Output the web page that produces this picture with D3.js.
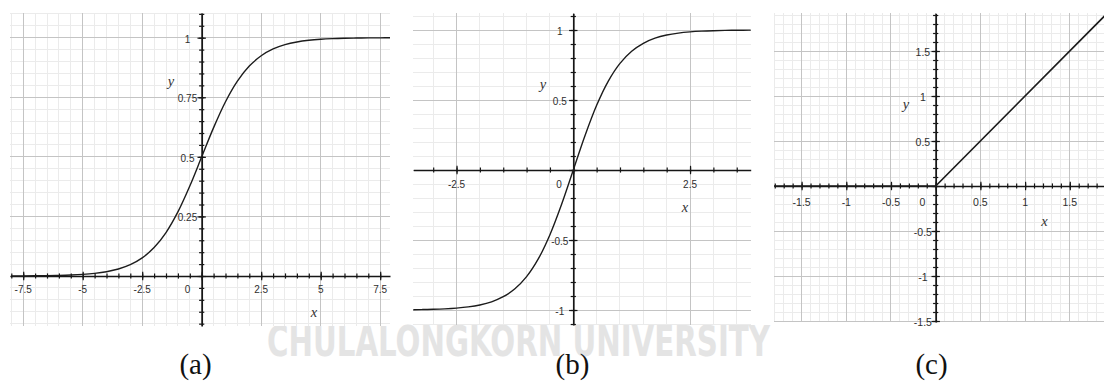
<!DOCTYPE html>
<html>
<head>
<meta charset="utf-8">
<script src="https://cdn.jsdelivr.net/npm/d3@7"></script>
<style>
  html, body { margin: 0; padding: 0; background: #fff; }
  svg { display: block; }
</style>
</head>
<body>
<svg id="fig" width="1104" height="381"></svg>
<script>
// ---- sampled curves ----
// (a) logistic sigmoid
const sigmoidX = [-8, -7.5, -7, -6.5, -6, -5.5, -5, -4.5, -4, -3.5, -3, -2.5, -2, -1.5, -1, -0.5,
                  0, 0.5, 1, 1.5, 2, 2.5, 3, 3.5, 4, 4.5, 5, 5.5, 6, 6.5, 7, 7.5, 8];
const sigmoidY = [0.0003, 0.0006, 0.0009, 0.0015, 0.0025, 0.0041, 0.0067, 0.0110, 0.0180, 0.0293,
                  0.0474, 0.0759, 0.1192, 0.1824, 0.2689, 0.3775, 0.5, 0.6225, 0.7311, 0.8176,
                  0.8808, 0.9241, 0.9526, 0.9707, 0.9820, 0.9890, 0.9933, 0.9959, 0.9975, 0.9985,
                  0.9991, 0.9994, 0.9997];
// (b) hyperbolic tangent
const tanhX = [-3.75, -3.5, -3.25, -3, -2.75, -2.5, -2.25, -2, -1.75, -1.5, -1.25, -1, -0.75, -0.5, -0.25,
               0, 0.25, 0.5, 0.75, 1, 1.25, 1.5, 1.75, 2, 2.25, 2.5, 2.75, 3, 3.25, 3.5, 3.75, 4];
const tanhY = [-0.9989, -0.9982, -0.9970, -0.9951, -0.9919, -0.9866, -0.9780, -0.9640, -0.9414, -0.9051,
               -0.8483, -0.7616, -0.6351, -0.4621, -0.2449, 0, 0.2449, 0.4621, 0.6351, 0.7616, 0.8483,
               0.9051, 0.9414, 0.9640, 0.9780, 0.9866, 0.9919, 0.9951, 0.9970, 0.9982, 0.9989, 0.9993];
// (c) rectified linear unit
const reluX = [-2, 0, 2];
const reluY = [0, 0, 2];

// ---- tick labels ----
const ticksAX = [-7.5, -5, -2.5, 2.5, 5, 7.5];
const ticksAY = [0.25, 0.5, 0.75, 1];
const ticksBX = [-2.5, 2.5];
const ticksBY = [-1, -0.5, 0.5, 1];
const ticksCX = [-1.5, -1, -0.5, 0.5, 1, 1.5];
const ticksCY = [-1.5, -1, -0.5, 0.5, 1, 1.5];
const captions = ["(a)", "(b)", "(c)"];
const watermark = "CHULALONGKORN UNIVERSITY";

// ---- panel layout ----
const panels = [
  { xs: sigmoidX, ys: sigmoidY, tx: ticksAX, ty: ticksAY,
    left: 10, right: 390, top: 13, bottom: 326,
    xDom: [-8.055, 7.912], yDom: [-0.2098, 1.1036],
    majX: 2.5, minX: 0.5, majY: 0.25, minY: 0.05,
    fs: 10, xLabDy: 17, yLabDx: -14.2, zeroDx: -14.2,
    xName: [314, 316.7], yName: [171, 85.5], capX: 195.5, curveW: 1.4 },
  { xs: tanhX, ys: tanhY, tx: ticksBX, ty: ticksBY,
    left: 413.3, right: 750.7, top: 13.3, bottom: 325,
    xDom: [-3.426, 3.799], yDom: [-1.1071, 1.1193],
    majX: 2.5, minX: 0.5, majY: 0.5, minY: 0.1,
    fs: 10, xLabDy: 18.3, yLabDx: -13.5, zeroDx: -14.3,
    xName: [685, 211.7], yName: [543, 89], capX: 572.5, curveW: 1.4 },
  { xs: reluX, ys: reluY, tx: ticksCX, ty: ticksCY,
    left: 774, right: 1104, top: 13.3, bottom: 322,
    xDom: [-1.8087, 1.8826], yDom: [-1.5111, 1.9189],
    majX: 0.5, minX: 0.1, majY: 0.5, minY: 0.1,
    fs: 10.5, xLabDy: 19.7, yLabDx: -12.8, zeroDx: -13.2,
    xName: [1044.5, 226], yName: [906, 109], capX: 931.5, curveW: 1.7 }
];

const svg = d3.select("#fig");

// faint university watermark behind the panels
svg.append("text")
  .attr("x", 267).attr("y", 356)
  .attr("textLength", 503).attr("lengthAdjust", "spacingAndGlyphs")
  .attr("font-family", "'Liberation Sans Narrow', 'DejaVu Sans Condensed', 'Liberation Sans', sans-serif")
  .attr("font-weight", "bold").attr("font-size", 42.5)
  .attr("fill", "#e4e4e4")
  .text(watermark);

function stepValues(dom, step) {
  const out = [];
  const i0 = Math.ceil(dom[0] / step - 1e-9), i1 = Math.floor(dom[1] / step + 1e-9);
  for (let i = i0; i <= i1; i++) out.push(+(i * step).toFixed(6));
  return out;
}
function fmt(v) { return String(+v.toFixed(3)).replace("-", "-"); }

panels.forEach((p, k) => {
  const x = d3.scaleLinear().domain(p.xDom).range([p.left, p.right]);
  const y = d3.scaleLinear().domain(p.yDom).range([p.bottom, p.top]);
  const g = svg.append("g");

  const clipId = "clip" + k;
  svg.append("defs").append("clipPath").attr("id", clipId)
    .append("rect").attr("x", p.left).attr("y", p.top)
    .attr("width", p.right - p.left).attr("height", p.bottom - p.top);

  // white panel background
  g.append("rect").attr("x", p.left).attr("y", p.top)
    .attr("width", p.right - p.left).attr("height", p.bottom - p.top)
    .attr("fill", "#fff");

  const minXs = stepValues(p.xDom, p.minX), minYs = stepValues(p.yDom, p.minY);
  const majXs = stepValues(p.xDom, p.majX), majYs = stepValues(p.yDom, p.majY);

  // minor grid
  const grid = g.append("g").attr("shape-rendering", "crispEdges");
  grid.selectAll(".mvx").data(minXs).join("line")
    .attr("x1", d => x(d)).attr("x2", d => x(d)).attr("y1", p.top).attr("y2", p.bottom)
    .attr("stroke", "#ebebeb").attr("stroke-width", 1);
  grid.selectAll(".mhy").data(minYs).join("line")
    .attr("class", "mhy")
    .attr("y1", d => y(d)).attr("y2", d => y(d)).attr("x1", p.left).attr("x2", p.right)
    .attr("stroke", "#ebebeb").attr("stroke-width", 1);
  // major grid
  grid.selectAll(".Mvx").data(majXs).join("line")
    .attr("class", "Mvx")
    .attr("x1", d => x(d)).attr("x2", d => x(d)).attr("y1", p.top).attr("y2", p.bottom)
    .attr("stroke", "#c4c4c4").attr("stroke-width", 1);
  grid.selectAll(".Mhy").data(majYs).join("line")
    .attr("class", "Mhy")
    .attr("y1", d => y(d)).attr("y2", d => y(d)).attr("x1", p.left).attr("x2", p.right)
    .attr("stroke", "#c4c4c4").attr("stroke-width", 1);

  // axes through the origin, ticks crossing the axis line
  const axCol = "#161616";
  const addAxis = (gen, tr, vals, size, showDomain) => {
    const a = g.append("g").attr("transform", tr)
      .call(gen.tickValues(vals).tickSize(size).tickSizeOuter(0).tickFormat(""));
    a.select(".domain").attr("stroke", axCol).attr("stroke-width", 1.7)
      .style("display", showDomain ? null : "none");
    a.selectAll(".tick line").attr("stroke", axCol).attr("stroke-width", 1.2);
  };
  const xAxT = `translate(0,${y(0)})`, yAxT = `translate(${x(0)},0)`;
  addAxis(d3.axisBottom(x), xAxT, minXs, 2.6, true);
  addAxis(d3.axisTop(x), xAxT, minXs, 2.6, false);
  addAxis(d3.axisBottom(x), xAxT, majXs, 4.2, false);
  addAxis(d3.axisTop(x), xAxT, majXs, 4.2, false);
  addAxis(d3.axisLeft(y), yAxT, minYs, 2.6, true);
  addAxis(d3.axisRight(y), yAxT, minYs, 2.6, false);
  addAxis(d3.axisLeft(y), yAxT, majYs, 4.2, false);
  addAxis(d3.axisRight(y), yAxT, majYs, 4.2, false);

  // tick labels
  const lab = g.append("g")
    .attr("font-family", "'Liberation Sans', Arial, Helvetica, sans-serif")
    .attr("font-size", p.fs).attr("fill", "#2e2e2e").attr("text-anchor", "middle");
  lab.selectAll(".tx").data(p.tx).join("text")
    .attr("class", "tx")
    .attr("x", d => x(d)).attr("y", y(0) + p.xLabDy).text(fmt);
  lab.append("text").attr("x", x(0) + p.zeroDx).attr("y", y(0) + p.xLabDy).text("0");
  lab.selectAll(".ty").data(p.ty).join("text")
    .attr("class", "ty")
    .attr("x", x(0) + p.yLabDx).attr("y", d => y(d) + 5).text(fmt);

  // axis names
  const nm = g.append("g")
    .attr("font-family", "'Liberation Serif', 'Times New Roman', serif")
    .attr("font-style", "italic").attr("font-size", 14.5).attr("fill", "#333")
    .attr("text-anchor", "middle");
  nm.append("text").attr("x", p.xName[0]).attr("y", p.xName[1]).text("x");
  nm.append("text").attr("x", p.yName[0]).attr("y", p.yName[1]).text("y");

  // curve
  const pts = p.xs.map((v, i) => [v, p.ys[i]]);
  const line = d3.line().x(d => x(d[0])).y(d => y(d[1]))
    .curve(p.xs.length > 3 ? d3.curveCatmullRom.alpha(0.5) : d3.curveLinear);
  g.append("path").datum(pts)
    .attr("clip-path", `url(#${clipId})`)
    .attr("d", line).attr("fill", "none")
    .attr("stroke", "#1c1c1c").attr("stroke-width", p.curveW)
    .attr("stroke-linejoin", "round");

  // caption
  svg.append("text")
    .attr("x", p.capX).attr("y", 374)
    .attr("font-family", "'Liberation Serif', 'Times New Roman', serif")
    .attr("font-size", 29).attr("fill", "#111").attr("text-anchor", "middle")
    .text(captions[k]);
});
</script>
</body>
</html>
